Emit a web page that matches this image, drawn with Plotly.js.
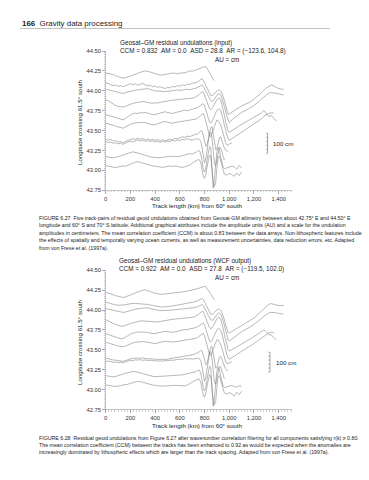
<!DOCTYPE html>
<html><head><meta charset="utf-8">
<script src="https://cdn.plot.ly/plotly-3.0.1.min.js"></script>
<style>html,body{margin:0;padding:0;background:#fff;}#chart{width:369px;height:480px;}</style>
</head><body><div id="chart"></div>
<script>
// ---- data ----
const trackKm = [0,20,40,60,80,100,120,140,160,180,200,220,240,260,280,300,320,340,360,380,400,420,440,460,480,500,520,540,560,580,600,620,640,660,680,700,720,
 730,740,750,760,770,780,790,800,810,820,830,840,850,860,870,880,890,900,910,920,930,940,950,960,970,980,990,1000,
 1020,1040,1060,1080,1100,1120,1140,1160,1180,1200,1220,1240,1260,1280,1300,1320,1340,1360,1380,1400,1420,1440];
// track positions (longitude crossing 61.5° S, degrees)
const trackLon = [44.22,44.085,44.01,43.865,43.717,43.60,43.415,43.36,43.19,43.08];
// residual undulations (cm), Geosat-GM input
const in1 = [2,0,-4,-6,-12,-17,-20,-25,-22,-19,-14,-9,-6,0,5,9,12,10,6,0,-4,-6,-9,-8,-5,-3,-1,1,0,-2,1,0,2,7,12,10,14,
 16,17,19,22,26,30,31,33,33,25,15,6,-6,-20,-32,-37];
const in2 = [8,4,-3,-9,-4,-12,-8,-14,-9,-4,2,-5,1,-6,-1,3,-4,-9,-5,-14,-10,-17,-13,-20,-23,-16,-20,-12,-15,-8,-11,-4,-7,0,-3,4,6,
 10,8,15,20,26,27,18,6,-8,-22,-36,-48,-58,-59,-53,-47,-40,-33,-30,-30,-34,-45,-60,-82,-106,-130,-152,-150,
 -141,-133,-124,-118,-110,-105,-97,-93,-85,-77,-65,-56,-43,-33,-19,-13,-5,-9,-17,-23,-25,-28];
const in3 = [4,1,-2,-5,-7,-10,-14,-17,-13,-9,-6,-3,-1,1,3,6,8,7,3,-2,-4,-6,-5,-8,-9,-7,-5,-3,-1,0,-2,1,2,4,2,4,7,
 9,12,15,19,22,25,18,8,-2,-16,-30,-44,-53,-58,-54,-45,-36,-27,-19,-18,-24,-40,-58,-78,-105,-132,-152,-163,
 -150,-140,-128,-120,-112,-107,-101,-95,-86,-78,-69,-58,-46,-34,-25,-16,-13,-14,-16,-20,-22,-25];
const in4 = [8,4,-4,-14,-20,-24,-27,-28,-24,-18,-14,-9,-6,-3,-1,0,-2,-4,-7,-9,-6,-8,-4,-1,2,4,5,7,8,11,9,12,13,15,14,17,20,
 23,27,32,38,44,49,48,33,14,-4,-22,-36,-42,-36,-26,-12,2,10,15,17,10,-12,-38,-68,-100,-127,-146,-155,
 -148,-140,-131,-122,-115,-108,-101,-96,-88,-80,-74,-67,-57,-45,-58,-75,-70,-82,-98];
const in5 = [-6,-10,-15,-20,-23,-27,-31,-33,-26,-16,-8,-2,1,-1,4,2,5,1,-3,-7,-6,-2,3,6,8,4,2,-1,3,6,10,14,16,13,17,19,22,
 25,28,32,37,42,47,49,38,16,-6,-28,-45,-50,-42,-28,-12,4,15,20,21,15,-2,-30,-60,-88,-112,-128,-136,
 -128,-119,-110,-101,-94,-87,-80,-72,-63,-55,-46,-38,-28,-15,-7,0,2,1];
const in6 = [-2,-5,-9,-13,-18,-21,-25,-28,-22,-14,-8,-4,-2,1,-1,2,0,-3,-7,-11,-10,-5,0,3,5,2,-1,-3,0,2,5,4,6,8,11,12,15,
 18,21,25,30,36,42,46,30,3,-25,-50,-66,-70,-58,-38,-18,2,13,10,0,-10,-30,-55,-80,-100,-112,-113,-108,
 -101];
const in7 = [-8,-14,-11,-19,-16,-24,-21,-27,-20,-15,-12,-7,-10,-4,-9,-6,-12,-8,-14,-10,-15,-11,-17,-12,-18,-13,-9,-12,-5,-8,-2,3,0,6,4,10,13,
 16,15,19,26,34,30,8,-20,-45,-38,-8,30,50,53,25,-20,-62,-58,-30,-2,2,-18,-36,-52,-64,-70,-72];
const in8 = [2,-4,-1,-8,-5,-11,-7,-13,-6,-2,3,-1,6,9,4,8,2,6,1,5,-1,3,-3,2,-2,4,1,7,3,9,6,12,10,16,11,8,12,
 14,16,15,10,0,-30,-75,-106,-85,-40,15,42,50,15,-45,-110,-120,-90,-45,-28,-30,-50,-80,-92];
const in9 = [-6,-9,-11,-13,-10,-8,-3,1,6,10,14,17,15,12,8,4,-1,-5,-8,-10,-12,-11,-13,-10,-8,-6,-5,-7,-4,-8,-6,-2,1,5,8,6,10,
 15,20,24,22,5,-30,-72,-84,-65,-25,20,44,38,-70,-165,-120,-30,20,38,25,-8,-38,-60,-66,-67,-63,-60,-57,
 -55,-58,-70,-52,-62];
const in10 = [-8,-11,-14,-16,-18,-15,-12,-9,-11,-7,-2,4,9,12,8,4,1,-3,-6,-9,-11,-13,-15,-17,-14,-12,-10,-13,-9,-12,-15,-17,-14,-10,-6,5,13,
 17,20,23,20,5,-30,-62,-72,-52,-15,25,45,37,-20,-90,-112,-95,-20,35,40,15,-15,-40,-50,-54,-55,-52,-48,
 -52,-62,-45,-58,-40];
// residual undulations (cm), WCF output
const out1 = [1,-2,-6,-11,-16,-20,-24,-25,-22,-17,-11,-5,0,5,9,12,13,10,5,0,-4,-7,-9,-9,-7,-5,-3,-1,0,0,1,2,4,7,10,12,14,
 16,18,20,23,26,29,31,31,28,21,12,2,-9,-20,-30,-36];
const out2 = [6,2,-3,-7,-9,-10,-10,-10,-8,-5,-2,-1,-1,-2,-2,-1,-3,-6,-9,-12,-14,-16,-18,-19,-19,-18,-16,-14,-12,-10,-8,-6,-4,-2,0,3,6,
 8,11,15,20,24,25,19,7,-7,-21,-35,-47,-55,-57,-53,-46,-39,-33,-30,-30,-35,-46,-62,-83,-107,-130,-148,-150,
 -142,-133,-125,-118,-111,-104,-97,-90,-83,-74,-63,-51,-38,-25,-13,-5,-2,-5,-10,-12,-11,-12];
const out3 = [3,0,-3,-6,-9,-12,-15,-16,-14,-10,-6,-3,0,2,4,6,7,6,3,-1,-4,-5,-6,-7,-7,-6,-5,-3,-2,-1,0,1,2,3,3,5,7,
 9,12,15,19,22,23,18,8,-4,-17,-31,-44,-53,-56,-53,-45,-36,-27,-20,-19,-25,-40,-58,-80,-106,-132,-152,-160,
 -150,-140,-130,-121,-113,-106,-100,-93,-85,-77,-68,-58,-47,-36,-26,-19,-16,-16,-18,-21,-23,-25];
const out4 = [6,1,-6,-13,-19,-24,-27,-27,-24,-19,-14,-10,-6,-3,-1,-1,-2,-4,-6,-7,-7,-6,-4,-1,2,4,5,7,8,10,10,12,13,14,15,17,20,
 23,27,32,38,43,47,45,32,14,-4,-21,-34,-40,-36,-26,-12,1,10,15,16,9,-11,-37,-67,-98,-125,-144,-152,
 -147,-139,-131,-123,-116,-109,-102,-95,-88,-80,-73,-65,-55,-46,-56,-70,-72,-82,-96];
const out5 = [-6,-10,-15,-20,-24,-28,-31,-31,-25,-16,-8,-2,1,2,3,3,2,0,-3,-5,-5,-2,2,5,6,4,2,1,3,6,10,13,15,15,17,19,22,
 25,28,32,37,42,46,47,37,16,-6,-27,-43,-48,-41,-27,-11,4,14,19,19,13,-3,-30,-59,-87,-110,-126,-134,
 -127,-118,-109,-101,-94,-87,-80,-72,-64,-55,-46,-37,-27,-16,-8,-2,1,0];
const out6 = [-2,-5,-9,-13,-17,-21,-24,-25,-21,-15,-9,-5,-2,0,1,1,0,-3,-6,-9,-9,-6,-2,2,3,2,0,-1,0,2,4,5,6,8,10,12,15,
 18,21,25,30,35,40,43,29,3,-24,-48,-63,-67,-56,-37,-17,1,11,9,0,-11,-30,-54,-78,-98,-109,-110,-106,
 -100];
const out7 = [-8,-12,-13,-17,-18,-21,-22,-24,-20,-15,-12,-9,-8,-6,-7,-7,-10,-10,-12,-12,-14,-13,-15,-14,-15,-13,-11,-10,-7,-6,-2,1,2,5,6,9,12,
 15,16,19,25,31,28,8,-19,-42,-36,-8,28,48,51,24,-19,-58,-55,-29,-3,1,-17,-35,-50,-62,-68,-70];
const out8 = [1,-3,-2,-7,-5,-9,-6,-9,-4,-2,3,1,6,4,7,3,5,2,4,1,2,-1,1,-1,2,1,4,3,6,6,9,8,12,10,12,9,11,
 13,14,14,10,0,-29,-72,-102,-83,-40,13,40,48,15,-43,-106,-116,-88,-45,-28,-30,-48,-77,-89];
const out9 = [-6,-9,-11,-12,-10,-7,-3,2,6,10,13,15,14,12,8,4,0,-4,-7,-9,-11,-11,-11,-10,-8,-7,-6,-6,-5,-6,-5,-2,1,4,6,7,10,
 14,19,22,20,4,-30,-70,-82,-64,-25,19,42,36,-68,-160,-117,-30,19,36,24,-8,-37,-58,-64,-65,-62,-59,-57,
 -56,-60,-64,-56,-60];
const out10 = [-8,-11,-13,-15,-16,-15,-12,-9,-8,-5,-1,4,8,10,8,4,0,-3,-6,-9,-11,-13,-14,-15,-14,-12,-11,-11,-11,-12,-14,-15,-13,-9,-4,5,12,
 16,19,21,18,4,-29,-60,-70,-51,-15,24,43,36,-20,-87,-108,-92,-20,33,38,14,-15,-39,-49,-53,-54,-51,-48,
 -52,-65,-45,-58,-40];
const yTicks = [42.75,43.00,43.25,43.50,43.75,44.00,44.25,44.50];
const xTicks = [0,200,400,600,800,1000,1200,1400];

// ---- drawing ----
const AMP = 0.25/100;   // 100 cm of undulation = 0.25 degree on the axis
const W = 369, H = 480;
const px = x => x / W, py = y => 1 - y / H;
const FONT = '"Liberation Sans Narrow", "Liberation Sans", Arial, sans-serif';
const LINE = '#707070';

const inputs = [in1,in2,in3,in4,in5,in6,in7,in8,in9,in10];
const outputs = [out1,out2,out3,out4,out5,out6,out7,out8,out9,out10];
const traces = [];
inputs.forEach((arr,i) => traces.push({type:'scatter',mode:'lines',xaxis:'x',yaxis:'y',
  x: trackKm.slice(0,arr.length), y: arr.map(c => trackLon[i] + c*AMP),
  line:{color:LINE,width:0.5}, hoverinfo:'skip'}));
outputs.forEach((arr,i) => traces.push({type:'scatter',mode:'lines',xaxis:'x2',yaxis:'y2',
  x: trackKm.slice(0,arr.length), y: arr.map(c => trackLon[i] + c*AMP),
  line:{color:LINE,width:0.5}, hoverinfo:'skip'}));

const axX = {range:[0,1510], tickvals:xTicks, tickformat:',d', showline:true, linecolor:'#888', linewidth:0.5,
  ticks:'outside', ticklen:3, tickwidth:0.6, tickcolor:'#777', showgrid:false, zeroline:false,
  tickfont:{size:5.8,color:'#333',family:FONT},
  minor:{dtick:25, tick0:0, ticks:'outside', ticklen:1.6, tickcolor:'#999', tickwidth:0.5, showgrid:false}};
const axY = {range:[42.75,44.5], tickvals:yTicks, tickformat:'.2f', showline:true, linecolor:'#888', linewidth:0.5,
  ticks:'outside', ticklen:3, tickwidth:0.6, tickcolor:'#777', showgrid:false, zeroline:false,
  tickfont:{size:5.8,color:'#333',family:FONT},
  minor:{dtick:0.025, tick0:42.75, ticks:'outside', ticklen:1.6, tickcolor:'#999', tickwidth:0.5, showgrid:false}};

const XD = [px(105.7), px(292.3)];
const layout = {
  width:W, height:H, margin:{l:0,r:0,t:0,b:0}, showlegend:false,
  paper_bgcolor:'#fff', plot_bgcolor:'#fff',
  font:{family:FONT,size:5.8,color:'#333'},
  xaxis: Object.assign({domain:XD, anchor:'y'}, axX),
  yaxis: Object.assign({domain:[py(190.3), py(51)], anchor:'x'}, axY),
  xaxis2: Object.assign({domain:XD, anchor:'y2'}, axX),
  yaxis2: Object.assign({domain:[py(409.5), py(270.2)], anchor:'x2'}, axY),
  shapes:[], annotations:[]
};

const nb = s => s.replace(/ {2}/g,'\u00a0\u00a0');
function txt(x,y,text,opt){
  opt = opt||{};
  layout.annotations.push({xref:'paper',yref:'paper',x:px(x),y:py(y),text:nb(text),showarrow:false,
    xanchor:opt.xa||'left', yanchor:'middle', textangle:opt.angle||0,
    font:{family:FONT,size:opt.size||5.8,color:opt.color||'#222'}});
}
// page header
txt(20,23,'<b>166</b>  Gravity data processing',{size:7.9});
layout.shapes.push({type:'line',xref:'paper',yref:'paper',x0:px(20),x1:px(330),y0:py(28.5),y1:py(28.5),line:{color:'#999',width:0.6}});

// figure 1 texts
txt(118,43.5,'Geosat–GM residual undulations (input)',{size:6.35});
txt(118,51,'CCM = 0.832  AM = 0.0  ASD = 28.8  AR = (−123.6, 104.8)',{size:6.35});
txt(213,59,'AU = cm',{size:6.3});
txt(79,122,'Longitude crossing 61.5° south',{angle:-90,xa:'center',size:6.2});
txt(197,205.5,'Track length (km) from 60° south',{xa:'center',size:6.2});
const cap1 = [
 'FIGURE 6.27  Five track-pairs of residual geoid undulations obtained from Geosat-GM altimetry between about 42.75° E and 44.50° E',
 'longitude and 60° S and 70° S latitude. Additional graphical attributes include the amplitude units (AU) and a scale for the undulation',
 'amplitudes in centimeters. The mean correlation coefficient (CCM) is about 0.83 between the data arrays. Non-lithospheric features include',
 'the effects of spatially and temporally varying ocean currents, as well as measurement uncertainties, data reduction errors, etc. Adapted',
 'from von Frese et al. (1997a).'];
[218,225.5,233,240.3,247.6].forEach((y,i)=>txt(37,y,cap1[i],{size:5.25}));

// figure 2 texts
txt(117,260.5,'Geosat–GM residual undulations (WCF output)',{size:6.35});
txt(117,268.5,'CCM = 0.922  AM = 0.0  ASD = 27.8  AR = (−119.5, 102.0)',{size:6.35});
txt(213,277,'AU = cm',{size:6.3});
txt(79,342,'Longitude crossing 61.5° south',{angle:-90,xa:'center',size:6.2});
txt(197,425,'Track length (km) from 60° south',{xa:'center',size:6.2});
const cap2 = [
 'FIGURE 6.28  Residual geoid undulations from Figure 6.27 after wavenumber correlation filtering for all components satisfying r(k) ≥ 0.80.',
 'The mean correlation coefficient (CCM) between the tracks has been enhanced to 0.92 as would be expected when the anomalies are',
 'increasingly dominated by lithospheric effects which are larger than the track spacing. Adapted from von Frese et al. (1997a).'];
[437.6,444.8,452].forEach((y,i)=>txt(37,y,cap2[i],{size:5.25}));

// 100 cm scale bars
function scaleBar(xr,yr,xk,yc){
  const y0 = yc - 50*AMP, y1 = yc + 50*AMP;
  layout.shapes.push({type:'line',xref:xr,yref:yr,x0:xk,x1:xk,y0:y0,y1:y1,line:{color:'#666',width:0.6}});
  for(let k=0;k<=5;k++){
    const yy = y0 + k*20*AMP;
    layout.shapes.push({type:'line',xref:xr,yref:yr,x0:xk-14,x1:xk,y0:yy,y1:yy,line:{color:'#777',width:0.5}});
  }
  layout.annotations.push({xref:xr,yref:yr,x:xk+30,y:yc,text:'100 cm',showarrow:false,xanchor:'left',yanchor:'middle',
    font:{family:FONT,size:6.2,color:'#222'}});
}
scaleBar('x','y',1310,43.34);
scaleBar('x2','y2',1329,43.345);

Plotly.newPlot('chart',traces,layout,{displayModeBar:false,staticPlot:true});
</script></body></html>
